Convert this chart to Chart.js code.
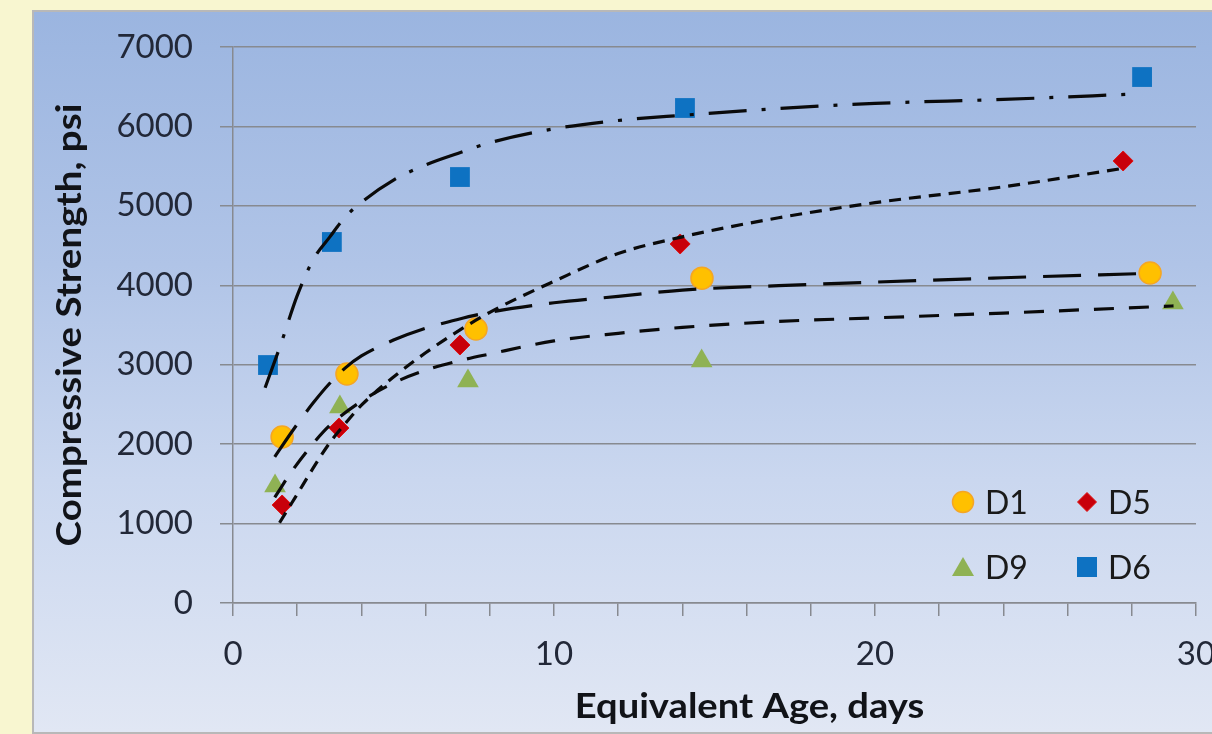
<!DOCTYPE html>
<html><head><meta charset="utf-8">
<script src="https://cdn.jsdelivr.net/npm/chart.js@4.4.0/dist/chart.umd.min.js"></script>
<style>
html,body{margin:0;padding:0;width:1212px;height:734px;overflow:hidden;background:#F8F6D0;}
#panel{position:absolute;left:32px;top:10px;width:1210px;height:724px;box-sizing:border-box;border:2px solid #B8B8B8;
background:linear-gradient(to bottom,#9BB5E0 0%,#B0C4E7 35%,#CAD7EF 65%,#E1E7F4 100%);}
#c{position:absolute;left:33px;top:11px;width:1200px;height:722px;}
.lt{position:absolute;font-family:Lato,"Liberation Sans",sans-serif;font-size:32px;color:#1a1a1a;line-height:32px;height:32px;}
.lm{position:absolute;}
</style></head>
<body>
<div id="panel"></div>
<canvas id="c" width="1200" height="722"></canvas>
<div id="legend">
  <svg class="lm" style="left:951px;top:490px" width="24" height="24"><circle cx="12" cy="12" r="10.5" fill="#FFC000" stroke="#F5A623" stroke-width="1.5"/></svg>
  <div class="lt" style="left:985px;top:486px">D1</div>
  <svg class="lm" style="left:1077px;top:492px" width="20" height="20"><polygon points="10,0.5 19.5,10 10,19.5 0.5,10" fill="#C8000A" stroke="#E01010" stroke-width="1"/></svg>
  <div class="lt" style="left:1108px;top:486px">D5</div>
  <svg class="lm" style="left:951px;top:555px" width="24" height="24"><polygon points="12,2 23,21 1,21" fill="#8FB254"/></svg>
  <div class="lt" style="left:985px;top:551px">D9</div>
  <svg class="lm" style="left:1077px;top:557px" width="20" height="20"><rect x="0" y="0" width="20" height="20" fill="#0E72C2"/></svg>
  <div class="lt" style="left:1108px;top:551px">D6</div>
</div>
<script>
// ---- measured data (Equivalent Age, days / Compressive Strength, psi) ----
const d1X = [1.53, 3.55, 7.57, 14.61, 28.57];
const d1Y = [2090, 2883, 3450, 4090, 4155];
const d5X = [1.53, 3.30, 7.07, 13.93, 27.73];
const d5Y = [1234, 2203, 3248, 4520, 5565];
const d9X = [1.31, 3.33, 7.32, 14.60, 29.28];
const d9Y = [1473, 2468, 2795, 3047, 3777];
const d6X = [1.09, 3.08, 7.07, 14.08, 28.32];
const d6Y = [2996, 4545, 5363, 6232, 6622];

// ---- trend lines ----
const t1X = [1.3, 1.5, 2, 2.5, 3, 3.5, 4, 5, 6, 7, 8, 10, 12, 14, 17, 20, 24, 28.5];
const t1Y = [1840, 1960, 2250, 2520, 2760, 2960, 3110, 3310, 3460, 3570, 3660, 3780, 3860, 3940, 3995, 4040, 4095, 4150];
const t5X = [1.45, 2, 2.5, 3, 3.5, 4, 5, 6, 7, 8, 10, 12, 14, 17, 20, 24, 27.7];
const t5Y = [1010, 1370, 1700, 2010, 2260, 2490, 2845, 3150, 3420, 3660, 4050, 4400, 4610, 4850, 5040, 5240, 5470];
const t9X = [1.3, 1.8, 2.4, 3, 4, 5, 6, 7, 8, 10, 12, 14, 17, 20, 24, 29.3];
const t9Y = [1330, 1640, 1960, 2230, 2540, 2770, 2930, 3045, 3135, 3300, 3395, 3470, 3545, 3590, 3650, 3740];
const t6X = [1.0, 1.5, 2, 2.5, 3, 3.5, 4, 5, 6, 7, 8, 10, 12, 14, 17, 20, 24, 28.2];
const t6Y = [2710, 3270, 3870, 4325, 4600, 4860, 5045, 5325, 5515, 5660, 5795, 5970, 6075, 6140, 6225, 6290, 6340, 6410];

const seriesNames = ['D1', 'D5', 'D9', 'D6'];
const xTitle = 'Equivalent Age, days';
const yTitle = 'Compressive Strength, psi';
const xMin = 0, xMax = 30, xStep = 2, xLabelEvery = 10;
const yMin = 0, yMax = 7000, yStep = 1000;

const pts = (xs, ys) => xs.map((x, i) => ({x: x, y: ys[i]}));

const trend = (label, xs, ys, dash) => ({
  label: label, data: pts(xs, ys), showLine: true, borderColor: '#0a0a0a', borderWidth: 3.2,
  borderDash: dash, pointRadius: 0, pointHoverRadius: 0, fill: false,
  cubicInterpolationMode: 'monotone'
});

const axisTitles = {
  id: 'axisTitles',
  afterDraw(chart) {
    const ctx = chart.ctx, a = chart.chartArea;
    ctx.save();
    ctx.fillStyle = '#111318';
    ctx.font = 'bold 35px Lato, "Liberation Sans", sans-serif';
    ctx.textAlign = 'center';
    ctx.textBaseline = 'middle';
    ctx.save();
    ctx.translate((a.left + a.right) / 2 + 35, a.bottom + 104);
    ctx.scale(1.09, 1);
    ctx.fillText(xTitle, 0, 0);
    ctx.restore();
    ctx.translate(a.left - 163, (a.top + a.bottom) / 2);
    ctx.rotate(-Math.PI / 2);
    ctx.scale(1.1, 1);
    ctx.fillText(yTitle, 0, 0);
    ctx.restore();
  }
};

const gridCol = '#878a90';
const tickCol = '#222838';

new Chart(document.getElementById('c'), {
  type: 'scatter',
  data: {
    datasets: [
      trend('D1 trend', t1X, t1Y, [38, 17]),
      trend('D5 trend', t5X, t5Y, [12, 8]),
      trend('D9 trend', t9X, t9Y, [20, 15]),
      trend('D6 trend', t6X, t6Y, [38, 15, 4, 15]),
      {label: seriesNames[0], data: pts(d1X, d1Y), pointStyle: 'circle', pointRadius: 11,
       backgroundColor: '#FFC000', borderColor: '#F5A623', borderWidth: 1.5},
      {label: seriesNames[1], data: pts(d5X, d5Y), pointStyle: 'rectRot', pointRadius: 10,
       backgroundColor: '#C8000A', borderColor: '#E01010', borderWidth: 1},
      {label: seriesNames[2], data: pts(d9X, d9Y), pointStyle: 'triangle', pointRadius: 12.5,
       backgroundColor: '#8FB254', borderColor: '#8FB254', borderWidth: 0},
      {label: seriesNames[3], data: pts(d6X, d6Y), pointStyle: 'rect', pointRadius: 14,
       backgroundColor: '#0E72C2', borderColor: '#0E72C2', borderWidth: 0}
    ]
  },
  options: {
    responsive: false,
    devicePixelRatio: 1,
    animation: false,
    layout: {padding: {left: 0, right: 37, top: 36, bottom: 0}},
    plugins: {legend: {display: false}, tooltip: {enabled: false}, title: {display: false}},
    scales: {
      x: {
        type: 'linear', min: xMin, max: xMax,
        afterFit(s) { s.height = 130; s.paddingLeft = 0; s.paddingRight = 0; },
        ticks: {
          stepSize: xStep, autoSkip: false, maxRotation: 0, padding: 19, color: tickCol,
          font: {family: 'Lato, "Liberation Sans", sans-serif', size: 33},
          callback: v => (v % xLabelEvery === 0 ? String(v) : '')
        },
        grid: {drawOnChartArea: false, drawTicks: true, tickLength: 13, color: gridCol, lineWidth: 1.5},
        border: {display: true, color: gridCol, width: 1.5}
      },
      y: {
        type: 'linear', min: yMin, max: yMax,
        afterFit(s) { s.width = 200; s.paddingTop = 0; s.paddingBottom = 0; },
        ticks: {
          stepSize: yStep, padding: 27, color: tickCol,
          font: {family: 'Lato, "Liberation Sans", sans-serif', size: 33},
          callback: v => String(v)
        },
        grid: {color: gridCol, lineWidth: 1.5, tickLength: 13},
        border: {display: true, color: gridCol, width: 1.5}
      }
    }
  },
  plugins: [axisTitles]
});
</script>
</body></html>
